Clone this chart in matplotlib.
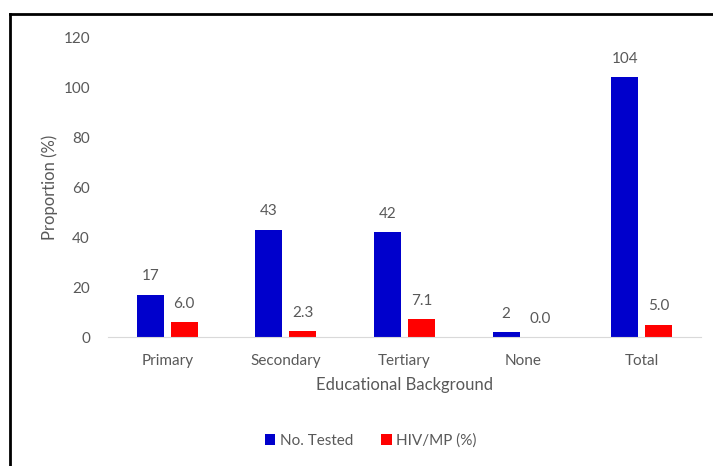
import numpy as np
import matplotlib.pyplot as plt
from matplotlib.lines import Line2D

categories = ["Primary", "Secondary", "Tertiary", "None", "Total"]
no_tested = [17, 43, 42, 2, 104]
hiv_mp = [6.0, 2.3, 7.1, 0.0, 5.0]

blue = "#0000CC"
red = "#FF0000"
grey = "#595959"

plt.rcParams["font.family"] = ["Lato", "DejaVu Sans"]
plt.rcParams["font.size"] = 10

fig = plt.figure(figsize=(7.13, 4.66), dpi=100)
ax = fig.add_axes([0.1515, 0.2768, 0.8315, 0.6438])

x = np.arange(len(categories))
w = 0.228
off = 0.143
b1 = ax.bar(x - off, no_tested, w, color=blue, label="No. Tested")
b2 = ax.bar(x + off, hiv_mp, w, color=red, label="HIV/MP (%)")

for bars, vals, fmt in ((b1, no_tested, "{:d}"), (b2, hiv_mp, "{:.1f}")):
    for bar, v in zip(bars, vals):
        ax.annotate(fmt.format(v), (bar.get_x() + bar.get_width() / 2, v),
                    xytext=(0, 13), textcoords="offset points",
                    ha="center", va="center", color=grey, fontsize=11)

ax.set_xlim(-0.5, len(categories) - 0.5)
ax.set_ylim(0, 120)
ax.set_yticks(range(0, 121, 20))
ax.set_xticks(x)
ax.set_xticklabels(categories)
ax.tick_params(axis="both", length=0, colors=grey, labelsize=11)
ax.tick_params(axis="y", pad=13)
ax.tick_params(axis="x", pad=12)
for s in ("top", "right", "left"):
    ax.spines[s].set_visible(False)
ax.spines["bottom"].set_color("#D9D9D9")

ax.set_ylabel("Proportion (%)", color=grey, fontsize=12, labelpad=4)
ax.set_xlabel("Educational Background", color=grey, fontsize=12, labelpad=7)

fig.legend(handles=[b1, b2], loc="center", bbox_to_anchor=(0.52, 0.054),
           ncol=2, frameon=False, fontsize=11, labelcolor=grey,
           handlelength=0.7, handleheight=0.7, handletextpad=0.3, columnspacing=1.8)

# open frame: top and left edges only
fig.add_artist(Line2D([0.014, 1.0], [0.970, 0.970], color="black", lw=2, transform=fig.transFigure))
fig.add_artist(Line2D([0.014, 0.014], [0.0, 0.970], color="black", lw=2, transform=fig.transFigure))

fig.savefig("out.png", dpi=100)
